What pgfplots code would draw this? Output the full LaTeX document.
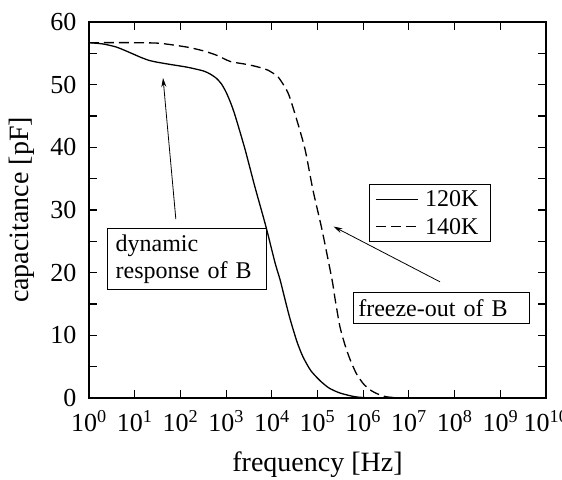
\documentclass[border=0pt]{standalone}
\usepackage{fontspec}
\setmainfont{Liberation Serif}
\usepackage{pgfplots}
\pgfplotsset{compat=1.18}
\usetikzlibrary{arrows.meta}
\begin{document}
\begin{tikzpicture}
\begin{axis}[
  scale only axis, width=457pt, height=376pt,
  xmode=log, log basis x=10,
  xmin=1, xmax=1e10, ymin=0, ymax=60,
  xtick={1,10,100,1e3,1e4,1e5,1e6,1e7,1e8,1e9,1e10},
  xticklabels={10\textsuperscript{0},10\textsuperscript{1},10\textsuperscript{2},10\textsuperscript{3},10\textsuperscript{4},10\textsuperscript{5},10\textsuperscript{6},10\textsuperscript{7},10\textsuperscript{8},10\textsuperscript{9},10\textsuperscript{10}},
  ytick={0,5,...,60},
  yticklabels={0,,10,,20,,30,,40,,50,,60},
  /pgf/number format/assume math mode=true,
  tick align=inside,
  major tick length=8pt, minor tick length=4pt,
  axis line style={line width=1.6pt},
  every tick/.style={black, line width=1.1pt},
  tick label style={font=\fontsize{26}{28}\selectfont},
  yticklabel style={xshift=-9pt},
  xticklabel style={yshift=-9pt},
  label style={font=\fontsize{28}{30}\selectfont},
  xlabel={frequency [Hz]}, ylabel={capacitance [pF]},
  xlabel style={at={(axis description cs:0.5,-0.178)}, anchor=center},
  ylabel style={at={(axis description cs:-0.147,0.5)}, anchor=center},
  legend style={at={(0.613,0.569)}, anchor=north west, draw=black, line width=1.2pt,
    font=\fontsize{24}{26}\selectfont, inner xsep=6pt, inner ysep=4pt, row sep=6pt,
    nodes={inner xsep=6pt, inner ysep=2pt},
    cells={anchor=west}},
  legend image code/.code={\draw[#1] (0pt,0pt) -- (42pt,0pt);},
  clip=false,
]
\addplot[black, line width=1.3pt, smooth, tension=0.4] coordinates {
(1,56.7) (2.0,56.5) (3.98,56.0) (7.94,55.1) (13.2,54.4) (20,53.9) (30.2,53.6)
(63.1,53.2) (138,52.8) (316,52.2) (447,51.7) (617,51.0) (794,50.1) (1000,48.8)
(1259,47.1) (1585,45.0) (2570,39.8) (4266,33.7) (7413,27.4) (11749,21.6)
(15136,18.9) (19498,15.7) (25119,12.6) (35481,9.0) (47863,6.6) (70795,4.4)
(112202,2.8) (177828,1.6) (309030,0.8) (660693,0.2) (1.585e6,0.0) (1e7,0)
};
\addlegendentry{120K}
\addplot[black, line width=1.3pt, dash pattern=on 10pt off 5pt, smooth, tension=0.4] coordinates {
(1,56.7) (10,56.7) (35.5,56.6) (138,56.0) (316,55.4) (617,54.7) (1230,53.7)
(2500,53.3) (3981,53.0) (6457,52.6) (8318,52.3) (13804,51.2) (22909,48.6)
(35481,44.3) (53703,39.6) (79433,33.2) (125893,26.8) (208930,18.8)
(239883,16.0) (309030,11.4) (398107,8.5) (512861,6.2) (707946,3.9) (1e6,2.3)
(1.413e6,1.3) (1.995e6,0.7) (3.162e6,0.2) (6.31e6,0)
};
\addlegendentry{140K}
\node[draw, line width=1.2pt, anchor=north west, minimum width=159pt, minimum height=61pt,
  text width=143pt, inner xsep=8pt, inner ysep=0pt, align=left,
  font=\fontsize{24}{27}\selectfont] at (rel axis cs:0.0394,0.452) {dynamic\\response of B};
\node[draw, line width=1.2pt, anchor=north west, minimum width=176pt, minimum height=31pt,
  text width=166pt, inner xsep=5pt, inner ysep=0pt, align=left,
  font=\fontsize{24}{27}\selectfont] at (rel axis cs:0.577,0.283) {freeze-out of B};
\draw[line width=0.8pt, -{Stealth[length=9pt,width=5pt]}] (rel axis cs:0.190,0.476) -- (rel axis cs:0.162,0.851);
\draw[line width=0.8pt, -{Stealth[length=9pt,width=5pt]}] (rel axis cs:0.768,0.309) -- (rel axis cs:0.535,0.456);
\end{axis}
\pgfresetboundingbox
\path ([shift={(-89pt,-82pt)}]current axis.south west) rectangle ([shift={(16pt,22pt)}]current axis.north east);
\end{tikzpicture}
\end{document}
